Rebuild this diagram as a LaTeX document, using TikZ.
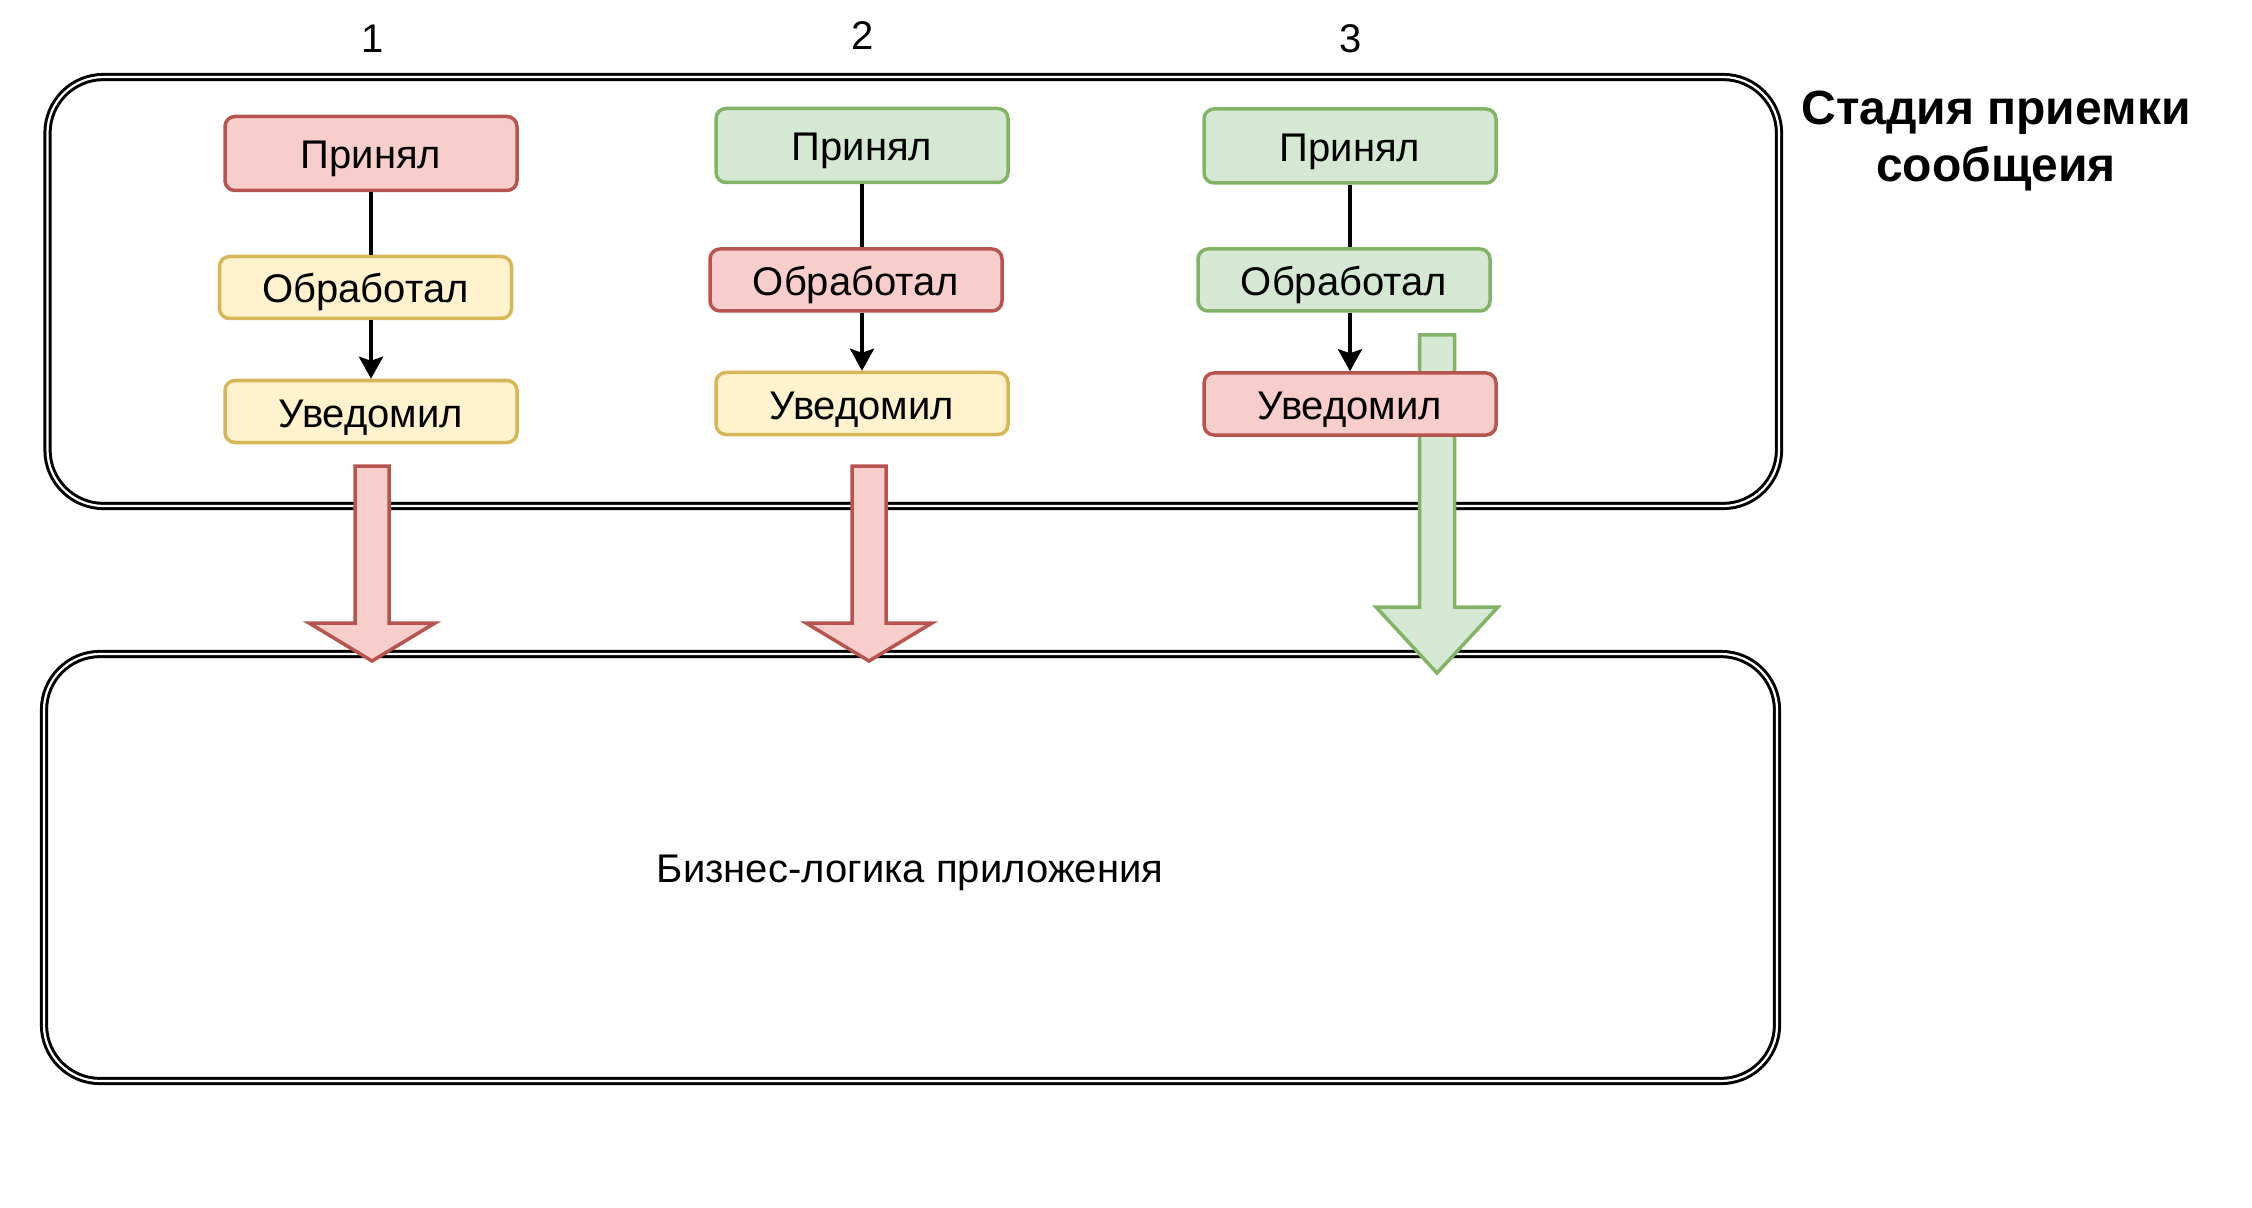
\documentclass[tikz,border=0pt]{standalone}
\usepackage{fontspec}
\setmainfont{Liberation Sans}
\usetikzlibrary{arrows.meta}
\definecolor{redS}{HTML}{B85450}
\definecolor{redF}{HTML}{F8CECC}
\definecolor{greenS}{HTML}{82B366}
\definecolor{greenF}{HTML}{D5E8D4}
\definecolor{yelS}{HTML}{D6B656}
\definecolor{yelF}{HTML}{FFF2CC}
\begin{document}
\begin{tikzpicture}[x=0.5pt,y=-0.5pt,
  container/.style={draw=black, line width=1.5pt, double=white, double distance=1.1pt, rounded corners=28pt},
  box/.style={rounded corners=5pt, line width=1.75pt, minimum width=146pt, minimum height=31pt, inner sep=0pt,
    text height=15.5pt, text depth=0pt, font=\fontsize{20pt}{24pt}\selectfont},
  tall/.style={minimum height=37pt},
  redbox/.style={box, draw=redS, fill=redF},
  greenbox/.style={box, draw=greenS, fill=greenF},
  yelbox/.style={box, draw=yelS, fill=yelF},
  link/.style={line width=2pt, draw=black},
  flow/.style={link, -{Stealth[length=11pt,width=12pt,inset=2pt]}},
  blockred/.style={draw=redS, fill=redF, line width=1.75pt, line join=miter},
  blockgreen/.style={draw=greenS, fill=greenF, line width=1.75pt, line join=miter},
  lbl/.style={font=\fontsize{20pt}{24pt}\selectfont, anchor=base, inner sep=0pt},
  ttl/.style={font=\fontsize{24pt}{28pt}\selectfont\bfseries, anchor=base, inner sep=0pt}
]
\useasboundingbox (0,0) rectangle (2252,1208);

% containers
\draw[container] (47.5,77) rectangle (1779,506);
\draw[container] (44,654) rectangle (1777,1081);

% block arrows
\draw[blockred] (355,466) -- (389,466) -- (389,623) -- (435,623) -- (372,661) -- (309,623) -- (355,623) -- cycle;
\draw[blockred] (852,466) -- (886,466) -- (886,623) -- (932,623) -- (869,661) -- (806,623) -- (852,623) -- cycle;
\draw[blockgreen] (1419.5,335) -- (1454.5,335) -- (1454.5,607) -- (1498,607) -- (1437,673) -- (1376,607) -- (1419.5,607) -- cycle;

% column labels
\node[lbl] (n1) at (373,53) {1};
\node[lbl] (n2) at (863,50) {2};
\node[lbl] (n3) at (1351,53) {3};

% title
\node[ttl] (t1) at (1996,125) {Стадия приемки};
\node[ttl] (t2) at (1996,182) {сообщеия};

% business logic
\node[lbl] (biz) at (910,882) {Бизнес-логика приложения};

% column 1
\node[redbox, tall] (p1) at (371,153.5) {Принял};
\node[yelbox] (o1) at (365.5,287.5) {Обработал};
\node[yelbox] (u1) at (371,411.5) {Уведомил};
% column 2
\node[greenbox, tall] (p2) at (862,145.5) {Принял};
\node[redbox] (o2) at (856,280) {Обработал};
\node[yelbox] (u2) at (862,403.5) {Уведомил};
% column 3
\node[greenbox, tall] (p3) at (1350,146) {Принял};
\node[greenbox] (o3) at (1344,280) {Обработал};
\node[redbox] (u3) at (1350,404) {Уведомил};

% connectors
\draw[link] (p1.south) -- (p1.south |- o1.north);
\draw[flow] (o1.south -| u1.north) -- (u1.north);
\draw[link] (p2.south) -- (p2.south |- o2.north);
\draw[flow] (o2.south -| u2.north) -- (u2.north);
\draw[link] (p3.south) -- (p3.south |- o3.north);
\draw[flow] (o3.south -| u3.north) -- (u3.north);
\end{tikzpicture}
\end{document}
